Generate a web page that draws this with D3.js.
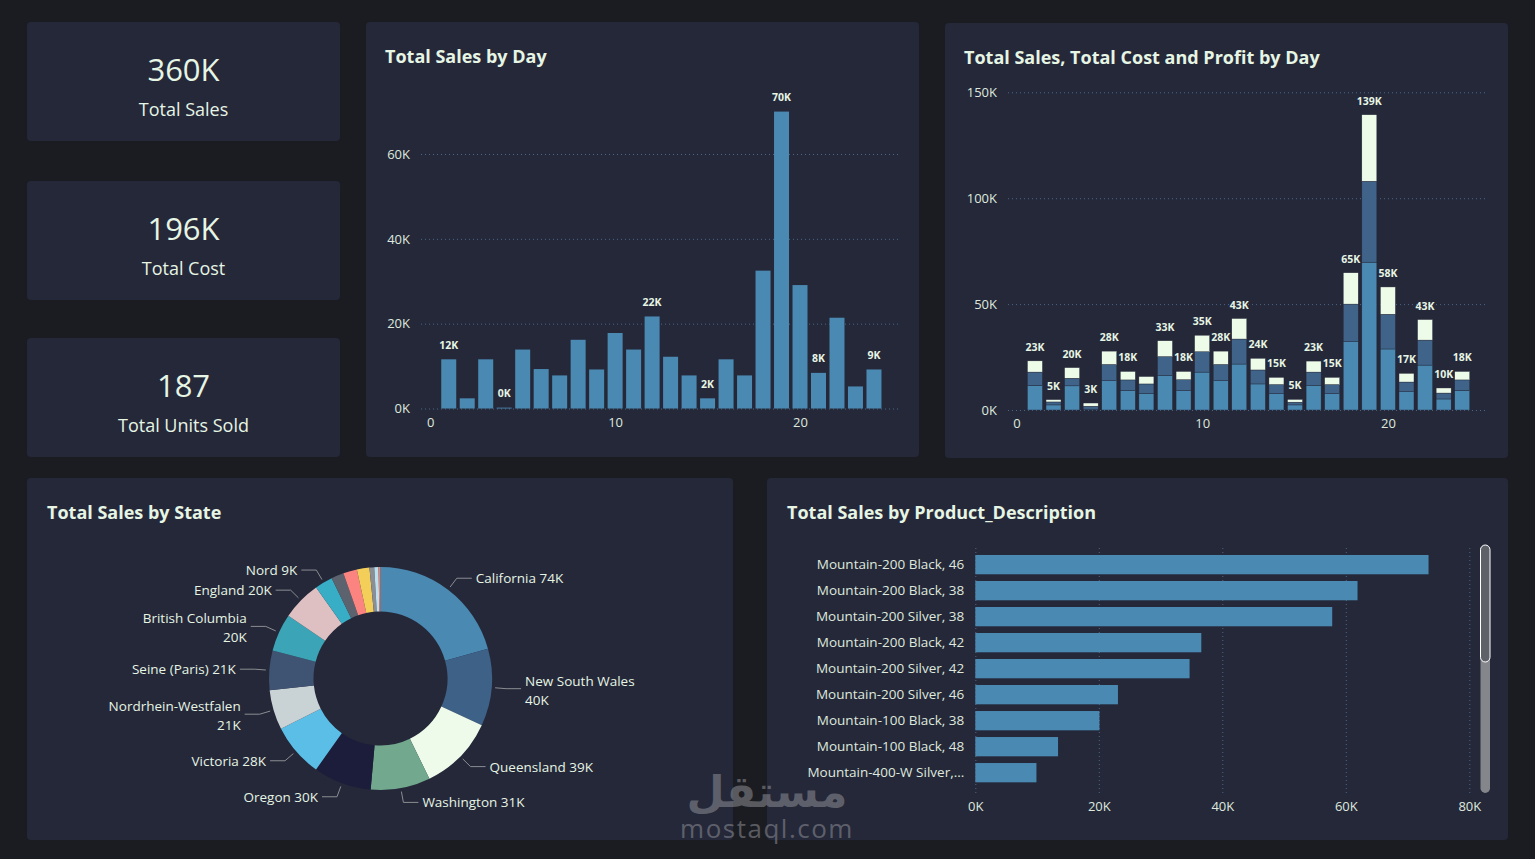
<!DOCTYPE html>
<html>
<head>
<meta charset="utf-8">
<script src="https://cdn.jsdelivr.net/npm/d3@7"></script>
<style>
    body { margin: 0; background: #1b1c21; }
    svg { display: block; font-family: "Open Sans", "Noto Sans", sans-serif; }
</style>
</head>
<body>
<div id="dashboard"></div>
<script>
// ---- data (sales values in thousands) ----
const kpiValues = ["360K", "196K", "187"];
const kpiNames = ["Total Sales", "Total Cost", "Total Units Sold"];

const dayNumbers = [1, 2, 3, 4, 5, 6, 7, 8, 9, 10, 11, 12, 13, 14, 15, 16, 17, 18, 19, 20, 21, 22, 23, 24];
const salesByDay = [11.6, 2.4, 11.6, 0.2, 13.9, 9.3, 7.8, 16.2, 9.2, 17.8, 13.9, 21.7, 12.2, 7.8, 2.4, 11.6, 7.8, 32.5, 70.0, 29.1, 8.4, 21.4, 5.2, 9.2];
const salesLabelDays = [1, 4, 12, 15, 19, 21, 24];

const stackSales = [11.6, 2.4, 11.4, 0.4, 13.8, 9.3, 7.9, 16.2, 9.1, 17.9, 13.8, 21.7, 12.3, 7.7, 2.4, 11.5, 7.7, 32.2, 69.8, 28.8, 8.6, 21.2, 5.2, 9.2];
const stackCost = [6.3, 1.4, 3.6, 1.4, 7.7, 4.9, 4.4, 9.0, 5.2, 9.6, 7.7, 11.8, 6.6, 4.3, 1.3, 6.4, 4.3, 17.8, 38.2, 16.4, 4.6, 11.8, 2.8, 5.0];
const stackProfit = [5.3, 1.1, 5.0, 1.5, 6.3, 4.0, 3.5, 7.5, 3.9, 7.8, 6.3, 9.7, 5.5, 3.4, 1.3, 5.2, 3.4, 14.8, 31.4, 12.9, 4.1, 9.7, 2.4, 4.0];
const stackUnlabeledDays = [7];

const dayTicks = [0, 10, 20];
const salesTicks = [0, 20, 40, 60];
const stackTicks = [0, 50, 100, 150];

const stateNames = ["California", "New South Wales", "Queensland", "Washington", "Oregon", "Victoria",
    "Nordrhein-Westfalen", "Seine (Paris)", "British Columbia", "England", "Nord",
    "Hessen", "Saarland", "Hamburg", "Moselle", "Yveline", "Seine Saint Denis"];
const stateSales = [74.4, 40.1, 39.2, 31.0, 30.2, 27.8, 20.7, 20.6, 19.7, 20.4, 9.3, 6.5, 7.2, 6.5, 2.5, 2.2, 1.0];
const stateColors = ["#4a89b2", "#3e6188", "#eefbea", "#71a88e", "#1c1d3b", "#5bbee7",
    "#c9d3d5", "#3f5373", "#3ba4b6", "#dfc0c2", "#37aec5",
    "#5c636f", "#fb8480", "#f3cf5a", "#8c8e96", "#bde0ef", "#e0877a"];

const productNames = ["Mountain-200 Black, 46", "Mountain-200 Black, 38", "Mountain-200 Silver, 38",
    "Mountain-200 Black, 42", "Mountain-200 Silver, 42", "Mountain-200 Silver, 46",
    "Mountain-100 Black, 38", "Mountain-100 Black, 48", "Mountain-400-W Silver, 42"];
const productSales = [73.4, 61.9, 57.8, 36.6, 34.7, 23.1, 20.1, 13.4, 9.9];
const productTicks = [0, 20, 40, 60, 80];

// ---- colours ----
const panelColor = "#252839", textColor = "#e6f5e4", axisTextColor = "#dfe8df",
    gridColor = "#4a6688", barColor = "#4a89b2", costColor = "#3f6389", profitColor = "#edfbe9",
    leaderColor = "#8b8d92";

const svg = d3.select("#dashboard")
    .append("svg")
    .attr("width", 1535)
    .attr("height", 859);

svg.append("rect").attr("width", 1535).attr("height", 859).attr("fill", "#1b1c21");

function drawPanel(x, y, w, h) {
    svg.append("rect")
        .attr("x", x).attr("y", y)
        .attr("width", w).attr("height", h)
        .attr("rx", 4)
        .attr("fill", panelColor);
}

function drawTitle(text, x, y) {
    svg.append("text")
        .attr("x", x).attr("y", y)
        .attr("dominant-baseline", "central")
        .attr("fill", textColor)
        .style("font-size", "18px")
        .style("font-weight", "bold")
        .text(text);
}

function styleAxis(g, size) {
    g.select(".domain").remove();
    g.selectAll(".tick line").attr("stroke", gridColor).attr("stroke-dasharray", "1,3");
    g.selectAll(".tick text").attr("fill", axisTextColor).style("font-size", size + "px")
        .style("font-family", "'Open Sans', sans-serif");
}

function drawKpis() {
    const tops = [22, 181, 338];
    tops.forEach((top, i) => {
        drawPanel(27, top, 313, 119);
        svg.append("text")
            .attr("x", 183.5).attr("y", top + 47)
            .attr("text-anchor", "middle").attr("dominant-baseline", "central")
            .attr("fill", textColor)
            .style("font-size", "31px")
            .text(kpiValues[i]);
        svg.append("text")
            .attr("x", 183.5).attr("y", top + 87)
            .attr("text-anchor", "middle").attr("dominant-baseline", "central")
            .attr("fill", textColor)
            .style("font-size", "18px")
            .text(kpiNames[i]);
    });
}

function drawSalesByDay() {
    drawPanel(366, 22, 553, 435);
    drawTitle("Total Sales by Day", 385, 56);

    const data = dayNumbers.map((d, i) => ({day: d, value: salesByDay[i]}));
    const x = d3.scaleLinear().domain([-0.5, 25.3]).range([421, 898]);
    const y = d3.scaleLinear().domain([0, 60]).range([408.5, 154]);
    const g = svg.append("g");

    g.append("g")
        .attr("transform", "translate(421,0)")
        .call(d3.axisLeft(y).tickValues(salesTicks).tickSize(-(898 - 421)).tickPadding(11).tickFormat(d => d + "K"))
        .call(a => styleAxis(a, 13));
    g.append("g")
        .attr("transform", "translate(0,408.5)")
        .call(d3.axisBottom(x).tickValues(dayTicks).tickSize(0).tickPadding(9))
        .call(a => styleAxis(a, 13));

    const barWidth = 15;
    g.selectAll(".bar")
        .data(data)
        .join("rect")
        .attr("class", "bar")
        .attr("x", d => x(d.day) - barWidth / 2)
        .attr("y", d => y(d.value))
        .attr("width", barWidth)
        .attr("height", d => y(0) - y(d.value))
        .attr("fill", barColor);

    g.selectAll(".lbl")
        .data(data.filter(d => salesLabelDays.includes(d.day)))
        .join("text")
        .attr("class", "lbl")
        .attr("x", d => x(d.day))
        .attr("y", d => y(d.value) - 14.5)
        .attr("text-anchor", "middle").attr("dominant-baseline", "central")
        .attr("fill", textColor)
        .style("font-size", "10.5px").style("font-weight", "bold")
        .text(d => d3.format(".0f")(d.value) + "K");
}

function drawStackByDay() {
    drawPanel(945, 23, 563, 435);
    drawTitle("Total Sales, Total Cost and Profit by Day", 964, 57);

    const rows = dayNumbers.map((d, i) => ({day: d, sales: stackSales[i], cost: stackCost[i], profit: stackProfit[i]}));
    const series = d3.stack().keys(["sales", "cost", "profit"])(rows);
    const colors = {sales: barColor, cost: costColor, profit: profitColor};

    const x = d3.scaleLinear().domain([-0.45, 25.28]).range([1008, 1486]);
    const y = d3.scaleLinear().domain([0, 150]).range([410, 92.3]);
    const g = svg.append("g");

    g.append("g")
        .attr("transform", "translate(1008,0)")
        .call(d3.axisLeft(y).tickValues(stackTicks).tickSize(-(1486 - 1008)).tickPadding(11).tickFormat(d => d + "K"))
        .call(a => styleAxis(a, 13));
    g.append("g")
        .attr("transform", "translate(0,410)")
        .call(d3.axisBottom(x).tickValues(dayTicks).tickSize(0).tickPadding(9))
        .call(a => styleAxis(a, 13));

    const barWidth = 15;
    g.selectAll(".layer")
        .data(series)
        .join("g")
        .attr("class", "layer")
        .attr("fill", s => colors[s.key])
        .selectAll("rect")
        .data(s => s)
        .join("rect")
        .attr("x", d => x(d.data.day) - barWidth / 2)
        .attr("y", d => y(d[1]))
        .attr("width", barWidth)
        .attr("height", d => y(d[0]) - y(d[1]))
        .attr("stroke", panelColor)
        .attr("stroke-width", 0.4);

    g.selectAll(".lbl")
        .data(rows.filter(r => !stackUnlabeledDays.includes(r.day)))
        .join("text")
        .attr("class", "lbl")
        .attr("x", d => x(d.day))
        .attr("y", d => y(d.sales + d.cost + d.profit) - 14)
        .attr("text-anchor", "middle").attr("dominant-baseline", "central")
        .attr("fill", textColor)
        .style("font-size", "10.5px").style("font-weight", "bold")
        .text(d => d3.format(".0f")(d.sales + d.cost + d.profit) + "K");
}

function drawStateDonut() {
    drawPanel(27, 478, 706, 362);
    drawTitle("Total Sales by State", 47, 512);

    const cx = 380.5, cy = 678.5, outer = 111.5, inner = 67;
    const data = stateNames.map((n, i) => ({name: n, value: stateSales[i], color: stateColors[i]}));
    const arcs = d3.pie().sort(null).value(d => d.value)(data);
    const arc = d3.arc().innerRadius(inner).outerRadius(outer);
    const g = svg.append("g").attr("transform", `translate(${cx},${cy})`);

    g.selectAll("path")
        .data(arcs)
        .join("path")
        .attr("d", arc)
        .attr("fill", d => d.data.color);

    const polar = (r, a) => [r * Math.sin(a), -r * Math.cos(a)];
    const labelled = arcs.filter(d => d.data.value >= 9);

    labelled.forEach(d => {
        const mid = (d.startAngle + d.endAngle) / 2;
        const right = Math.sin(mid) >= 0;
        const p0 = polar(outer + 3.5, mid);
        const p1 = polar(outer + 14.5, mid);
        const p2 = [p1[0] + (right ? 15 : -15), p1[1]];

        g.append("polyline")
            .attr("points", [p0, p1, p2].map(p => p.join(",")).join(" "))
            .attr("fill", "none")
            .attr("stroke", leaderColor)
            .attr("stroke-width", 1);

        const label = d.data.name + " " + d3.format(".0f")(d.data.value) + "K";
        const t = g.append("text")
            .attr("x", p2[0] + (right ? 4 : -4))
            .attr("y", p2[1])
            .attr("text-anchor", right ? "start" : "end")
            .attr("dominant-baseline", "central")
            .attr("fill", textColor)
            .style("font-size", "13.5px")
            .text(label);

        // wrap the value onto a second line when the label is too wide
        if (t.node().getComputedTextLength() > 122) {
            t.text(null);
            t.append("tspan").attr("x", p2[0] + (right ? 4 : -4)).attr("y", p2[1] - 8).text(d.data.name);
            t.append("tspan").attr("x", p2[0] + (right ? 4 : -4)).attr("y", p2[1] + 11)
                .text(d3.format(".0f")(d.data.value) + "K");
        }
    });
}

function drawProductBars() {
    drawPanel(767, 478, 741, 362);
    drawTitle("Total Sales by Product_Description", 787, 512);

    const data = productNames.map((n, i) => ({name: n, value: productSales[i]}));
    const x = d3.scaleLinear().domain([0, 80]).range([975.3, 1469.3]);
    const y = d3.scaleBand().domain(productNames).range([551.6, 785.7]).paddingInner(0.258).paddingOuter(0.13);
    const g = svg.append("g");

    g.append("g")
        .attr("transform", "translate(0,793)")
        .call(d3.axisBottom(x).tickValues(productTicks).tickSize(-(793 - 545)).tickPadding(9).tickFormat(d => d + "K"))
        .call(a => styleAxis(a, 13));

    const yAxis = g.append("g")
        .attr("transform", "translate(975.3,0)")
        .call(d3.axisLeft(y).tickSize(0).tickPadding(11))
        .call(a => styleAxis(a, 13.5));

    // truncate long category names like the original
    yAxis.selectAll(".tick text").each(function (d) {
        const el = d3.select(this);
        let s = d;
        while (this.getComputedTextLength() > 160 && s.length > 4) {
            s = s.slice(0, -1);
            el.text(s + "...");
        }
    });

    g.selectAll(".bar")
        .data(data)
        .join("rect")
        .attr("class", "bar")
        .attr("x", x(0))
        .attr("y", d => y(d.name))
        .attr("width", d => x(d.value) - x(0))
        .attr("height", y.bandwidth())
        .attr("fill", barColor);

    // scroll bar
    g.append("rect")
        .attr("x", 1480.5).attr("y", 545).attr("width", 9.5).attr("height", 248)
        .attr("rx", 4.75).attr("fill", "#85868c");
    g.append("rect")
        .attr("x", 1480.5).attr("y", 545).attr("width", 9.5).attr("height", 117)
        .attr("rx", 4.75).attr("fill", "#5f6169")
        .attr("stroke", "#ffffff").attr("stroke-width", 1);
}

function drawWatermark() {
    const g = svg.append("g").attr("fill", "#8c8e94").attr("opacity", 0.55);
    g.append("text")
        .attr("x", 767).attr("y", 790)
        .attr("text-anchor", "middle").attr("dominant-baseline", "central")
        .style("font-size", "44px").style("font-weight", "bold")
        .style("font-family", "'Noto Sans', 'DejaVu Sans', sans-serif")
        .text("مستقل");
    g.append("text")
        .attr("x", 767).attr("y", 828)
        .attr("text-anchor", "middle").attr("dominant-baseline", "central")
        .style("font-size", "26px").style("letter-spacing", "1.5px")
        .text("mostaql.com");
}

drawKpis();
drawSalesByDay();
drawStackByDay();
drawStateDonut();
drawProductBars();
drawWatermark();
</script>
</body>
</html>
